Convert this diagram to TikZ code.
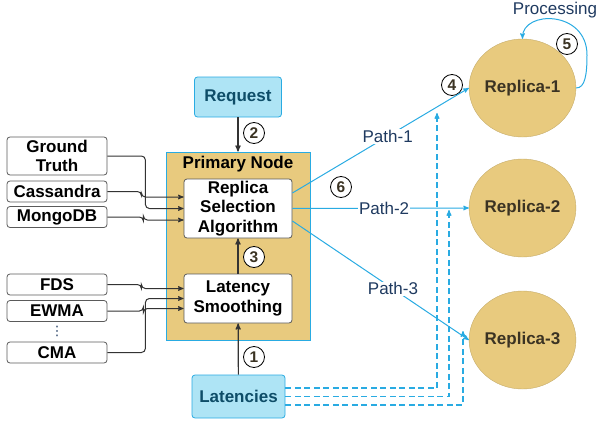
\documentclass[tikz,border=0pt]{standalone}
\usepackage{fontspec}
\setmainfont{Liberation Sans}
\newfontfamily\symbolfont{DejaVu Sans}
\usepackage{tikz}
\usetikzlibrary{arrows,shapes.geometric}
\usepackage{xcolor}

\definecolor{primfill}{HTML}{E8CA7E}
\definecolor{skyline}{HTML}{29ABE2}
\definecolor{skyfill}{HTML}{AEE4F5}
\definecolor{tealtext}{HTML}{0E4D68}
\definecolor{navytext}{HTML}{1F3A60}
\definecolor{replicatext}{HTML}{3B3323}
\definecolor{boxline}{HTML}{5A5A5A}
\definecolor{arrowgray}{HTML}{333333}

\begin{document}
\begin{tikzpicture}[x=1pt,y=1pt,>=stealth',
				font=\fontsize{17}{19.5}\selectfont,
				algo box/.style={rectangle,rounded corners=3pt,draw=boxline,fill=white,thick,
					font=\fontsize{17}{19.5}\selectfont\bfseries,align=center,
					minimum width=108,inner sep=2pt},
				src box/.style={algo box,minimum width=100,minimum height=21},
				blue box/.style={rectangle,rounded corners=3pt,draw=skyline,fill=skyfill,thick,
					text=tealtext,font=\fontsize{17}{19.5}\selectfont\bfseries},
				replica/.style={ellipse,fill=primfill,draw=primfill!85!black,
					minimum width=89,minimum height=98,inner sep=0pt,
					text=replicatext,font=\fontsize{17}{19.5}\selectfont\bfseries},
				num/.style={circle,draw=black,fill=white,thick,minimum size=21,inner sep=0pt,
					text=replicatext,font=\fontsize{15.5}{15.5}\selectfont\bfseries},
				flow/.style={->,draw=arrowgray,line width=1.2pt},
				feed/.style={->,draw=arrowgray,line width=1pt,rounded corners=4pt},
				path line/.style={->,draw=skyline,line width=1pt},
				path text/.style={fill=white,inner sep=1pt,text=navytext},
				latency line/.style={->,draw=skyline,line width=1.1pt,dash pattern=on 6pt off 3.5pt}]
				
				\useasboundingbox (0,0) rectangle (598,-423);
				
				% primary node with its two stages
				\node[rectangle,draw=skyline,fill=primfill,thick,minimum width=144,minimum height=188] (prim) at (238,-246) {};
				\node[font=\fontsize{17}{19.5}\selectfont\bfseries] (primtitle) at (238,-164) {Primary Node};
				\node[algo box,minimum height=59] (rsa) at (238,-208.5) {Replica\\Selection\\Algorithm};
				\node[algo box,minimum height=49,below of=rsa,node distance=90] (ls) {Latency\\Smoothing};
				
				\node[blue box,minimum width=87,minimum height=40] (req) at (238,-97) {Request};
				\node[blue box,minimum width=93,minimum height=43] (lat) at (238.5,-396.5) {Latencies};
				
				% inputs on the left
				\node[src box,minimum height=38] (gt) at (57,-156) {Ground\\Truth};
				\node[src box] (cas) at (57,-191.5) {Cassandra};
				\node[src box] (mdb) at (57,-217) {MongoDB};
				\node[src box] (fds) at (57,-284.5) {FDS};
				\node[src box] (ewma) at (57,-311) {EWMA};
				\node[text=navytext,font=\symbolfont\fontsize{13}{13}\selectfont,inner sep=0pt] (dots) at (57,-331) {⋮};
				\node[src box] (cma) at (57,-352.5) {CMA};
				
				% replicas
				\node[replica] (r1) at (522.5,-88) {Replica-1};
				\node[replica,below of=r1,node distance=120] (r2) {Replica-2};
				\node[replica,below of=r2,node distance=132] (r3) {Replica-3};
				
				% step numbers
				\node[num] (n1) at (254,-357) {1};
				\node[num] (n2) at (254,-133) {2};
				\node[num] (n3) at (254,-257) {3};
				\node[num] (n4) at (452,-85) {4};
				\node[num] (n5) at (567,-44) {5};
				\node[num] (n6) at (341,-187) {6};
				
				\draw[flow] (req) -- (prim);
				\draw[flow] (ls) -- (rsa);
				\draw[flow] (lat) -- (ls);
				
				\draw[feed] (gt.east) -- ++(38,0) |- (rsa.west);
				\draw[feed] (cas.east) -- ++(34,0) |- ([yshift=11.5]rsa.west);
				\draw[feed] (mdb.east) -- ++(36,0) |- ([yshift=-11.5]rsa.west);
				\draw[feed] (fds.east) -- ++(34,0) |- ([yshift=10]ls.west);
				\draw[feed] (ewma.east) -- ++(36,0) |- ([yshift=-10]ls.west);
				\draw[feed] (cma.east) -- ++(38,0) |- (ls.west);
				
				% paths to the replicas
				\draw[path line] ([yshift=15.5]rsa.east) -- node[path text,pos=0.54] (p1) {Path-1} (r1.west);
				\draw[path line] (rsa.east) -- node[path text,pos=0.52] (p2) {Path-2} (r2.west);
				\draw[path line] ([yshift=-12.5]rsa.east) -- node[path text,pos=0.57] (p3) {Path-3} (r3.west);
				
				\node[text=navytext] (proc) at (555,-10) {Processing};
				\draw[path line] (r1.east) .. controls (585,-88) and (587,-75) .. (587,-55)
					.. controls (587,-10) and (522.5,-10) .. (r1.north);
				
				% latency feedback
				\coordinate (d1) at (437,-113);
				\coordinate (d2) at (449,-210);
				\coordinate (d3) at (463,-331);
				\draw[latency line] ([yshift=8.5]lat.east) -| (d1);
				\draw[latency line] (lat.east) -| (d2);
				\draw[latency line] ([yshift=-8.5]lat.east) -| (d3);
\end{tikzpicture}
\end{document}
